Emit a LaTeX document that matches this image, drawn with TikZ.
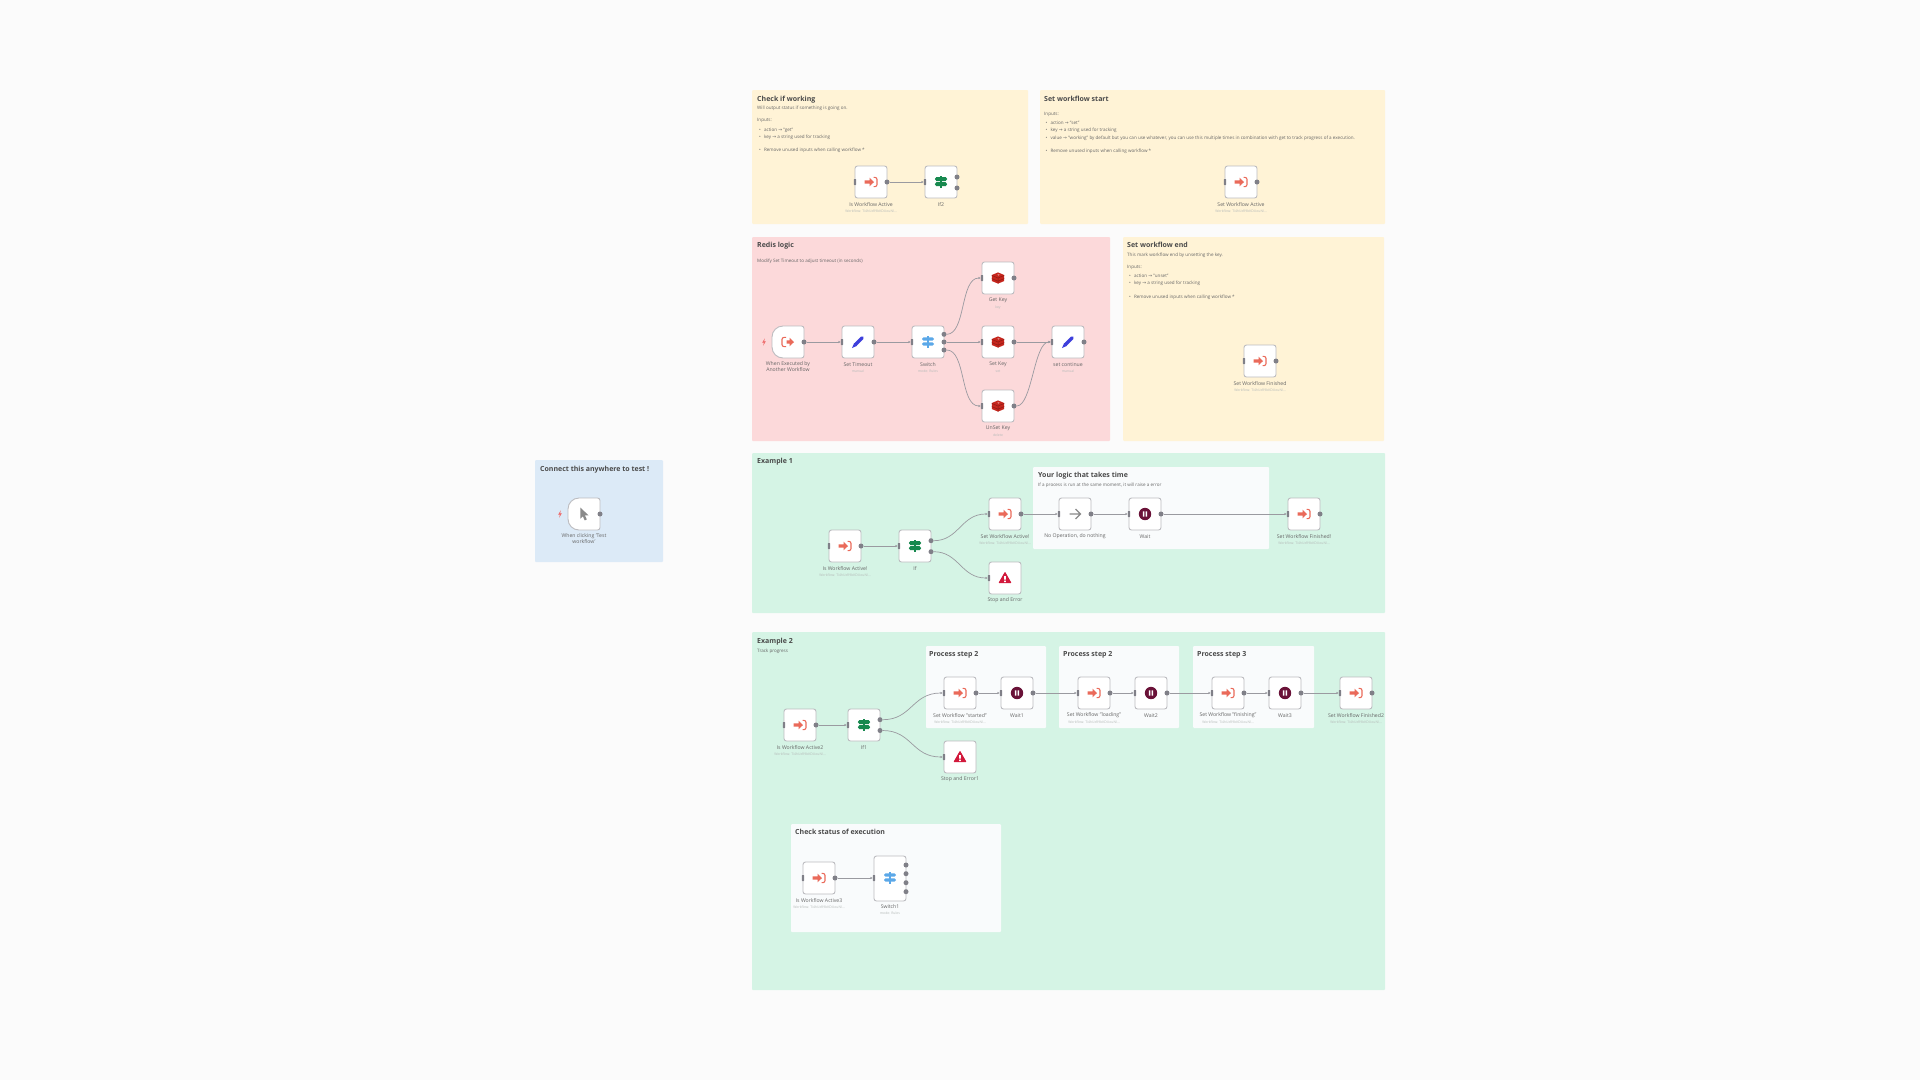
\documentclass[tikz,border=0pt]{standalone}
\usepackage{fontspec}
\setmainfont{Open Sans}
\newfontfamily\arrf{DejaVu Sans}
\usetikzlibrary{arrows.meta}
\definecolor{pagebg}{HTML}{FBFBFB}
\definecolor{ynote}{HTML}{FFF3D6}
\definecolor{rnote}{HTML}{FCD9DA}
\definecolor{gnote}{HTML}{D5F4E5}
\definecolor{bnote}{HTML}{DCEAF7}
\definecolor{wnote}{HTML}{F9FBFC}
\definecolor{edge}{HTML}{BCBCC0}
\definecolor{port}{HTML}{808088}
\definecolor{wire}{HTML}{9A9AA0}
\definecolor{ttlc}{HTML}{4A4A4A}
\definecolor{txtc}{HTML}{666666}
\definecolor{subc}{HTML}{B5BAB8}
\definecolor{enterc}{HTML}{EA6A5A}
\definecolor{ifc}{HTML}{17894F}
\definecolor{swc}{HTML}{5BA8E8}
\definecolor{redc}{HTML}{C6261D}
\definecolor{redd}{HTML}{8F1A14}
\definecolor{penc}{HTML}{3E3FDC}
\definecolor{waitc}{HTML}{6A1238}
\definecolor{stopc}{HTML}{D2193C}
\definecolor{noopc}{HTML}{8A8A8A}
\definecolor{boltc}{HTML}{EE6B6B}
\newcommand\ttlf{\fontsize{7}{8}\selectfont\bfseries}
\newcommand\bodyf{\fontsize{4.56}{5.5}\selectfont}
\newcommand\lblf{\fontsize{5.15}{6.4}\selectfont}
\newcommand\subf{\fontsize{3.4}{4}\selectfont}
\newcommand\arw{{\arrf →}}
\tikzset{
  panel/.style={rounded corners=1pt,draw=none},
  ttl/.style={anchor=west,inner sep=0,yshift=-.8pt,font=\ttlf,text=ttlc,text height=5pt,text depth=1.5pt},
  body/.style={anchor=west,inner sep=0,yshift=-.7pt,font=\bodyf,text=txtc,text height=3.4pt,text depth=1pt},
  wf/.style={draw=edge,line width=.9pt,fill=white,rounded corners=2.5pt,minimum width=32pt,minimum height=32pt,inner sep=0},
  wfghost/.style={minimum width=32pt,minimum height=32pt,inner sep=0},
  lbl/.style={inner sep=0,font=\lblf,text=txtc,align=center},
  sublbl/.style={inner sep=0,font=\subf,text=subc,align=center},
  outport/.style={circle,fill=port,minimum size=5pt,inner sep=0},
  inport/.style={rectangle,rounded corners=.5pt,fill=port,minimum width=2.2pt,minimum height=6pt,inner sep=0},
  link/.style={draw=wire,line width=.7pt,-{Latex[length=2.2pt,width=2.6pt]}},
  iconenter/.pic={
    \fill[enterc] (-6.5,-1.6) -- (-1.5,-1.6) -- (-1.5,-4.4) -- (3,0) -- (-1.5,4.4) -- (-1.5,1.6) -- (-6.5,1.6) -- cycle;
    \draw[enterc,line width=1.1pt,rounded corners=2pt] (2.6,-4.6) -- (6,-4.6) -- (6,4.6) -- (2.6,4.6);
  },
  iconexec/.pic={
    \fill[enterc] (-1.5,-1.6) -- (1.5,-1.6) -- (1.5,-4.4) -- (6,0) -- (1.5,4.4) -- (1.5,1.6) -- (-1.5,1.6) -- cycle;
    \draw[enterc,line width=1.1pt,rounded corners=2pt] (-2,-4.6) -- (-6,-4.6) -- (-6,4.6) -- (-2,4.6);
  },
  iconif/.pic={
    \fill[ifc] (-.8,-6) rectangle (.8,6);
    \fill[ifc] (-6.2,-3) -- (-4.6,-5) -- (4.6,-5) -- (6.2,-3) -- (4.6,-1) -- (-4.6,-1) -- cycle;
    \fill[ifc] (-6.2,2.2) -- (-4.6,.2) -- (4.6,.2) -- (6.2,2.2) -- (4.6,4.2) -- (-4.6,4.2) -- cycle;
  },
  iconswitch/.pic={
    \fill[swc] (-.7,-6) rectangle (.7,6);
    \fill[swc] (-6,-3) -- (-4.6,-4.6) -- (4.6,-4.6) -- (6,-3) -- (4.6,-1.4) -- (-4.6,-1.4) -- cycle;
    \fill[swc] (-6,2) -- (-4.6,.4) -- (4.6,.4) -- (6,2) -- (4.6,3.6) -- (-4.6,3.6) -- cycle;
  },
  iconredis/.pic={
    \fill[redc] (0,-5.6) -- (6.2,-3) -- (6.2,3) -- (0,5.6) -- (-6.2,3) -- (-6.2,-3) -- cycle;
    \draw[redd,line width=.5pt] (-6.2,-2.6) -- (0,0) -- (6.2,-2.6) (0,0) -- (0,5.6) (-6.2,.6) -- (0,3.2) -- (6.2,.6);
    \fill[white,opacity=.6] (-.8,-3.4) -- (1.6,-3.7) -- (.8,-2.4) -- cycle;
  },
  iconpen/.pic={
    \draw[penc,line width=3.4pt,line cap=round] (-2.6,2.6) -- (4.2,-4.2);
    \fill[penc] (-3.9,1.1) -- (-1.1,3.9) -- (-6,6) -- cycle;
  },
  iconwait/.pic={
    \fill[waitc] (0,0) circle[radius=6.2pt];
    \fill[white] (-2.1,-2.6) rectangle (-.6,2.6) (.6,-2.6) rectangle (2.1,2.6);
  },
  iconstop/.pic={
    \fill[stopc,draw=stopc,line width=1.2pt,line join=round] (0,-5.2) -- (5.6,4.6) -- (-5.6,4.6) -- cycle;
    \fill[white] (-.8,-2) rectangle (.8,1.6) (-.8,2.5) rectangle (.8,4);
  },
  iconnoop/.pic={
    \draw[noopc,line width=1.1pt] (-5.5,0) -- (5,0) (.5,-5) -- (5.5,0) -- (.5,5);
  },
  iconcursor/.pic={
    \fill[noopc] (-3.6,-6.4) -- (4.6,1.4) -- (.9,1.4) -- (2.8,5.4) -- (.7,6.4) -- (-1.2,2.2) -- (-3.6,4.6) -- cycle;
  },
  iconbolt/.pic={
    \fill[boltc] (.8,-3.6) -- (-1.8,.5) -- (-.2,.5) -- (-.8,3.6) -- (1.8,-.6) -- (.2,-.6) -- cycle;
  }
}
% name, x, y, icon, label, sub
\newcommand\wfbody[6]{%
  \node[wf] (#1) at (#2,#3) {};
  \pic at (#2,#3) {#4};
  \node[inport] (#1-i) at (#2-16,#3) {};
  \node[lbl] (#1-l) at (#2,#3+22.2) {#5};
  \node[sublbl] (#1-s) at (#2,#3+29.2) {#6};
}
\newcommand\wfnode[6]{%
  \wfbody{#1}{#2}{#3}{#4}{#5}{#6}
  \node[outport] (#1-o) at (#2+16,#3) {};
}
% name, x, y, icon, two-line label
\newcommand\wftrig[5]{%
  \node[wfghost] (#1) at (#2,#3) {};
  \fill[white,draw=edge,line width=.9pt,rounded corners=2.5pt] (#2,#3-16) -- (#2+16,#3-16) -- (#2+16,#3+16) -- (#2,#3+16) [rounded corners=11pt] -- (#2-16,#3+16) -- (#2-16,#3-16) [rounded corners=2.5pt] -- cycle;
  \pic at (#2,#3) {#4};
  \pic at (#2-24,#3) {iconbolt};
  \node[outport] (#1-o) at (#2+16,#3) {};
  \node[lbl] (#1-l) at (#2,#3+24.7) {#5};
}
\newcommand\wfid{Workflow: Ti4hUzR9bKDUouNl...}
\begin{document}
\begin{tikzpicture}[x=1pt,y=-1pt]
\useasboundingbox (0,0) rectangle (1920,1080);
\fill[pagebg] (0,0) rectangle (1920,1080);
% panels
\fill[panel,ynote] (752,90) rectangle (1028,224);
\fill[panel,ynote] (1040,90) rectangle (1385,224);
\fill[panel,rnote] (752,237) rectangle (1110,441);
\fill[panel,ynote] (1123,237) rectangle (1384,441);
\fill[panel,bnote] (535,460) rectangle (663,562);
\fill[panel,gnote] (752,453) rectangle (1385,613);
\fill[panel,gnote] (752,632) rectangle (1385,990);
\fill[panel,wnote] (1033,467) rectangle (1269,549);
\fill[panel,wnote] (926,646) rectangle (1046,728);
\fill[panel,wnote] (1059,646) rectangle (1179,728);
\fill[panel,wnote] (1193,646) rectangle (1314,728);
\fill[panel,wnote] (791,824) rectangle (1001,932);
% Check if working
\node[ttl] (t1) at (757,98.7) {Check if working};
\node[body] (t1a) at (757,108) {Will output status if something is going on.};
\node[body] (t1b) at (757,120) {Inputs:};
\node[body] (t1c) at (759,129.3) {•\hspace{2pt} action \arw{} "get"};
\node[body] (t1d) at (759,136.3) {•\hspace{2pt} key \arw{} a string used for tracking};
\node[body] (t1e) at (759,150) {•\hspace{2pt} Remove unused inputs when calling workflow *};
% Set workflow start
\node[ttl] (t2) at (1044,98.7) {Set workflow start};
\node[body] (t2b) at (1044,114) {Inputs:};
\node[body] (t2c) at (1045.5,123) {•\hspace{2pt} action \arw{} "set"};
\node[body] (t2d) at (1045.5,130) {•\hspace{2pt} key \arw{} a string used for tracking};
\node[body] (t2e) at (1045.5,137.3) {•\hspace{2pt} value \arw{} "working" by default but you can use whatever, you can use this multiple times in combination with get to track progress of a execution.};
\node[body] (t2f) at (1045.5,151) {•\hspace{2pt} Remove unused inputs when calling workflow *};
% Redis logic
\node[ttl] (t3) at (757,244.7) {Redis logic};
\node[body] (t3a) at (757,261) {Modify Set Timeout to adjust timeout (in seconds)};
% Set workflow end
\node[ttl] (t4) at (1127,244.7) {Set workflow end};
\node[body] (t4a) at (1127,255) {This mark workflow end by unsetting the key.};
\node[body] (t4b) at (1127,267) {Inputs:};
\node[body] (t4c) at (1129,276) {•\hspace{2pt} action \arw{} "unset"};
\node[body] (t4d) at (1129,283) {•\hspace{2pt} key \arw{} a string used for tracking};
\node[body] (t4e) at (1129,297) {•\hspace{2pt} Remove unused inputs when calling workflow *};
% others
\node[ttl] (t5) at (540,468.7) {Connect this anywhere to test !};
\node[ttl] (t6) at (757,461) {Example 1};
\node[ttl] (t7) at (1038,474.7) {Your logic that takes time};
\node[body] (t7a) at (1038,485) {If a process is run at the same moment, it will raise a error};
\node[ttl] (t8) at (757,640.7) {Example 2};
\node[body] (t8a) at (757,651) {Track progress};
\node[ttl] (t9) at (929,653.7) {Process step 2};
\node[ttl] (t10) at (1063,653.7) {Process step 2};
\node[ttl] (t11) at (1197,653.7) {Process step 3};
\node[ttl] (t12) at (795,832.3) {Check status of execution};
% nodes: top
\wfnode{act}{871}{182}{iconenter}{Is Workflow Active}{\wfid}
\wfbody{iftwo}{941}{182}{iconif}{If2}{}
\node[outport] (iftwo-a) at (957,177) {};
\node[outport] (iftwo-b) at (957,188) {};
\wfnode{setact}{1241}{182}{iconenter}{Set Workflow Active}{\wfid}
% redis
\wftrig{exec}{788}{342}{iconexec}{When Executed by\\Another Workflow}
\wfnode{tout}{858}{342}{iconpen}{Set Timeout}{manual}
\wfbody{sw}{928}{342}{iconswitch}{Switch}{mode: Rules}
\node[outport] (sw-a) at (944,334.3) {};
\node[outport] (sw-b) at (944,342) {};
\node[outport] (sw-c) at (944,350) {};
\wfnode{gkey}{998}{278}{iconredis}{Get Key}{key}
\wfnode{skey}{998}{342}{iconredis}{Set Key}{set}
\wfnode{ukey}{998}{406}{iconredis}{UnSet Key}{delete}
\wfnode{cont}{1068}{342}{iconpen}{set continue}{manual}
% end
\wfnode{fin}{1260}{361}{iconenter}{Set Workflow Finished}{\wfid}
% connect
\wftrig{click}{584}{514}{iconcursor}{When clicking 'Test\\workflow'}
% example 1
\wfnode{eact}{845}{546}{iconenter}{Is Workflow Active!}{\wfid}
\wfbody{eif}{915}{546}{iconif}{If}{}
\node[outport] (eif-a) at (931,540.7) {};
\node[outport] (eif-b) at (931,551.7) {};
\wfnode{eset}{1005}{514}{iconenter}{Set Workflow Active!}{\wfid}
\wfbody{estop}{1005}{578}{iconstop}{Stop and Error}{}
\wfnode{enoop}{1075}{514}{iconnoop}{No Operation, do nothing}{}
\wfnode{ewait}{1145}{514}{iconwait}{Wait}{}
\wfnode{efin}{1304}{514}{iconenter}{Set Workflow Finished!}{\wfid}
% example 2
\wfnode{tact}{800}{725}{iconenter}{Is Workflow Active2}{\wfid}
\wfbody{tif}{864}{725}{iconif}{If1}{}
\node[outport] (tif-a) at (880,719.7) {};
\node[outport] (tif-b) at (880,730.5) {};
\wfnode{tstart}{960}{693}{iconenter}{Set Workflow "started"}{\wfid}
\wfnode{twone}{1017}{693}{iconwait}{Wait1}{}
\wfbody{tstop}{960}{757}{iconstop}{Stop and Error1}{}
\wfnode{tload}{1094}{693}{iconenter}{Set Workflow "loading"}{\wfid}
\wfnode{twtwo}{1151}{693}{iconwait}{Wait2}{}
\wfnode{tfinish}{1228}{693}{iconenter}{Set Workflow "finishing"}{\wfid}
\wfnode{twthree}{1285}{693}{iconwait}{Wait3}{}
\wfnode{tfin}{1356}{693}{iconenter}{Set Workflow Finished2}{\wfid}
% check status
\wfnode{cact}{819}{878}{iconenter}{Is Workflow Active3}{\wfid}
\node[wf,minimum height=45pt] (csw) at (890,878.5) {};
\pic at (890,878) {iconswitch};
\node[inport] (csw-i) at (874,878) {};
\node[outport] (csw-a) at (906,865) {};
\node[outport] (csw-b) at (906,873.7) {};
\node[outport] (csw-c) at (906,882.7) {};
\node[outport] (csw-d) at (906,891.7) {};
\node[lbl] (csw-l) at (890,906.3) {Switch1};
\node[sublbl] (csw-s) at (890,913) {mode: Rules};
% connectors
\draw[link] (act-o) -- (iftwo-i);
\draw[link] (exec-o) -- (tout-i);
\draw[link] (tout-o) -- (sw-i);
\draw[link] (sw-a) .. controls +(22,0) and +(-22,0) .. (gkey-i);
\draw[link] (sw-b) -- (skey-i);
\draw[link] (sw-c) .. controls +(22,0) and +(-22,0) .. (ukey-i);
\draw[link] (skey-o) -- (cont-i);
\draw[link] (ukey-o) .. controls +(18,0) and +(-18,0) .. (cont-i);
\draw[link] (eact-o) -- (eif-i);
\draw[link] (eif-a) .. controls +(28,0) and +(-28,0) .. (eset-i);
\draw[link] (eif-b) .. controls +(28,0) and +(-28,0) .. (estop-i);
\draw[link] (eset-o) -- (enoop-i);
\draw[link] (enoop-o) -- (ewait-i);
\draw[link] (ewait-o) -- (efin-i);
\draw[link] (tact-o) -- (tif-i);
\draw[link] (tif-a) .. controls +(32,0) and +(-32,0) .. (tstart-i);
\draw[link] (tif-b) .. controls +(32,0) and +(-32,0) .. (tstop-i);
\draw[link] (tstart-o) -- (twone-i);
\draw[link] (twone-o) -- (tload-i);
\draw[link] (tload-o) -- (twtwo-i);
\draw[link] (twtwo-o) -- (tfinish-i);
\draw[link] (tfinish-o) -- (twthree-i);
\draw[link] (twthree-o) -- (tfin-i);
\draw[link] (cact-o) -- (csw-i);
\end{tikzpicture}
\end{document}
